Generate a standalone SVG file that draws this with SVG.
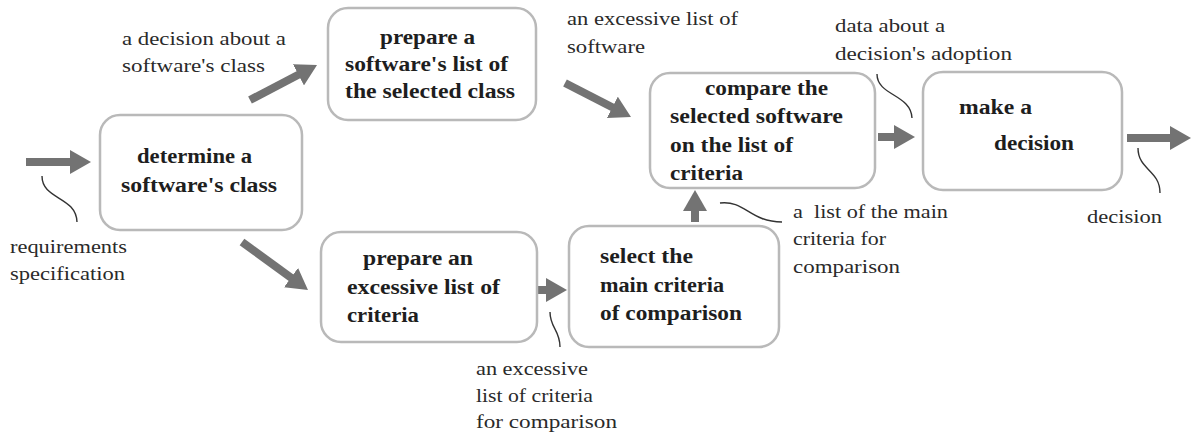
<svg xmlns="http://www.w3.org/2000/svg" width="1191" height="437" viewBox="0 0 1191 437">
<defs>
<style>
.box{fill:#ffffff;stroke:#b9b9b9;stroke-width:2.5}
text{font-family:"Liberation Serif",Tinos,"Noto Serif","DejaVu Serif",FreeSerif,Georgia,serif}
.t{font-weight:bold;font-size:20px;fill:#1e1e1e}
.l{font-size:19px;fill:#2a2a2a}
.arr{stroke:#737373;stroke-width:8;fill:none;marker-end:url(#head)}
.wave{stroke:#333;stroke-width:1.4;fill:none}
</style>
<marker id="head" markerUnits="userSpaceOnUse" markerWidth="21" markerHeight="24" viewBox="0 0 21 24" refX="1" refY="12" orient="auto">
<path d="M0,0 L21,12 L0,24 z" fill="#737373"/>
</marker>
</defs>
<rect width="1191" height="437" fill="#ffffff"/>
<g id="connectors">
<line class="arr" x1="26" y1="162" x2="71" y2="162"/>
<line class="arr" x1="250" y1="100" x2="299.3" y2="74.3"/>
<line class="arr" x1="565" y1="83" x2="613.2" y2="107.8"/>
<line class="arr" x1="242" y1="242" x2="291.8" y2="278.2"/>
<line class="arr" x1="532" y1="290" x2="547" y2="290"/>
<line class="arr" x1="695" y1="222" x2="695" y2="210"/>
<line class="arr" x1="878" y1="137" x2="895" y2="137"/>
<line class="arr" x1="1127" y1="138" x2="1171" y2="138"/>
<path class="wave" d="M42,176 C42,200 76,196 77,222"/>
<path class="wave" d="M877,74 C877,96 911,94 912,118"/>
<path class="wave" d="M550,312 C550,328 560,330 560,347"/>
<path class="wave" d="M720,203 C745,200 750,222 782,222"/>
<path class="wave" d="M1138,148 C1138,170 1160,170 1160,193"/>
</g>
<g id="node-determine">
<rect class="box" x="100" y="115" width="202" height="115" rx="20"/>
<text class="t" font-family="Liberation Serif, serif" x="137" y="163" textLength="115" lengthAdjust="spacingAndGlyphs">determine a</text>
<text class="t" font-family="Liberation Serif, serif" x="121" y="192" textLength="156" lengthAdjust="spacingAndGlyphs">software's class</text>
</g>
<g id="node-prepare-list">
<rect class="box" x="328" y="8" width="208" height="112" rx="20"/>
<text class="t" x="380" y="44" textLength="95" lengthAdjust="spacingAndGlyphs">prepare a</text>
<text class="t" x="345" y="71" textLength="163" lengthAdjust="spacingAndGlyphs">software's list of</text>
<text class="t" x="345" y="98" textLength="170" lengthAdjust="spacingAndGlyphs">the selected class</text>
</g>
<g id="node-compare">
<rect class="box" x="650" y="73" width="225" height="115" rx="20"/>
<text class="t" x="705" y="95" textLength="123" lengthAdjust="spacingAndGlyphs">compare the</text>
<text class="t" x="670" y="123" textLength="173" lengthAdjust="spacingAndGlyphs">selected software</text>
<text class="t" x="670" y="152" textLength="123" lengthAdjust="spacingAndGlyphs">on the list of</text>
<text class="t" x="670" y="180" textLength="73" lengthAdjust="spacingAndGlyphs">criteria</text>
</g>
<g id="node-decision">
<rect class="box" x="923" y="72" width="199" height="118" rx="20"/>
<text class="t" x="959" y="114" textLength="73" lengthAdjust="spacingAndGlyphs">make a</text>
<text class="t" x="994" y="150" textLength="80" lengthAdjust="spacingAndGlyphs">decision</text>
</g>
<g id="node-prepare-criteria">
<rect class="box" x="321" y="232" width="216" height="110" rx="20"/>
<text class="t" x="363" y="265" textLength="110" lengthAdjust="spacingAndGlyphs">prepare an</text>
<text class="t" x="347" y="294" textLength="153" lengthAdjust="spacingAndGlyphs">excessive list of</text>
<text class="t" x="347" y="322" textLength="72" lengthAdjust="spacingAndGlyphs">criteria</text>
</g>
<g id="node-select">
<rect class="box" x="569" y="226" width="210" height="121" rx="20"/>
<text class="t" x="600" y="263" textLength="93" lengthAdjust="spacingAndGlyphs">select the</text>
<text class="t" x="600" y="292" textLength="124" lengthAdjust="spacingAndGlyphs">main criteria</text>
<text class="t" x="600" y="320" textLength="142" lengthAdjust="spacingAndGlyphs">of comparison</text>
</g>
<g id="labels">
<text class="l" x="122" y="45" textLength="164" lengthAdjust="spacingAndGlyphs">a decision about a</text>
<text class="l" x="122" y="72" textLength="143" lengthAdjust="spacingAndGlyphs">software's class</text>
<text class="l" x="567" y="25" textLength="171" lengthAdjust="spacingAndGlyphs">an excessive list of</text>
<text class="l" x="567" y="53" textLength="78" lengthAdjust="spacingAndGlyphs">software</text>
<text class="l" x="835" y="32" textLength="110" lengthAdjust="spacingAndGlyphs">data about a</text>
<text class="l" x="835" y="60" textLength="177" lengthAdjust="spacingAndGlyphs">decision's adoption</text>
<text class="l" x="793" y="218" textLength="155" lengthAdjust="spacingAndGlyphs" xml:space="preserve">a  list of the main</text>
<text class="l" x="793" y="245" textLength="93" lengthAdjust="spacingAndGlyphs">criteria for</text>
<text class="l" x="793" y="273" textLength="107" lengthAdjust="spacingAndGlyphs">comparison</text>
<text class="l" x="1087" y="223" textLength="75" lengthAdjust="spacingAndGlyphs">decision</text>
<text class="l" x="10" y="253" textLength="117" lengthAdjust="spacingAndGlyphs">requirements</text>
<text class="l" x="10" y="280" textLength="115" lengthAdjust="spacingAndGlyphs">specification</text>
<text class="l" x="476" y="375" textLength="112" lengthAdjust="spacingAndGlyphs">an excessive</text>
<text class="l" x="476" y="402" textLength="117" lengthAdjust="spacingAndGlyphs">list of criteria</text>
<text class="l" x="476" y="428" textLength="141" lengthAdjust="spacingAndGlyphs">for comparison</text>
</g>
</svg>
